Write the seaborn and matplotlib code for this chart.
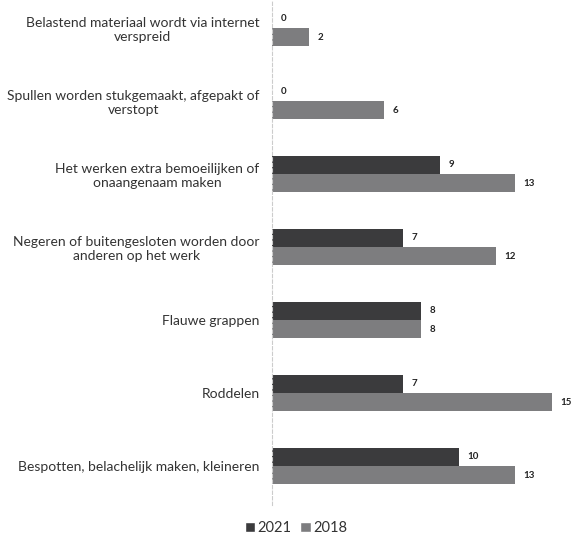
import matplotlib
matplotlib.use("Agg")
import matplotlib.pyplot as plt
import seaborn as sns
import pandas as pd
from matplotlib.patches import Patch

categories = [
    "Belastend materiaal wordt via internet\nverspreid",
    "Spullen worden stukgemaakt, afgepakt of\nverstopt",
    "Het werken extra bemoeilijken of\nonaangenaam maken",
    "Negeren of buitengesloten worden door\nanderen op het werk",
    "Flauwe grappen",
    "Roddelen",
    "Bespotten, belachelijk maken, kleineren",
]
values_2021 = [0, 0, 9, 7, 8, 7, 10]
values_2018 = [2, 6, 13, 12, 8, 15, 13]
years = ["2021", "2018"]
colors = {"2021": "#3b3b3d", "2018": "#7d7d7f"}

df = pd.DataFrame({
    "cat": categories * 2,
    "year": ["2021"] * len(categories) + ["2018"] * len(categories),
    "val": values_2021 + values_2018,
})

sns.set_theme(style="white")
plt.rcParams["font.family"] = ["Lato", "DejaVu Sans"]

fig = plt.figure(figsize=(5.72, 5.37), dpi=100)
ax = fig.add_axes([272 / 572, 1 - 505 / 537, 1 - 272 / 572 - 0.002, 505 / 537])

sns.barplot(data=df, y="cat", x="val", hue="year", order=categories,
            hue_order=years, palette=colors, orient="h", width=0.5,
            ax=ax, legend=False, saturation=1, linewidth=0)

for cont in ax.containers:
    ax.bar_label(cont, padding=6, fontsize=7, fontweight="bold", color="#222222")

ax.set_xlim(0, 16)
ax.set_ylim(6 + 39 / 73, -28 / 73)
ax.set_xlabel("")
ax.set_ylabel("")
ax.set_xticks([])
ax.set_yticks(range(len(categories)))
ax.set_yticklabels(categories, ha="right", multialignment="center",
                   fontsize=10, color="#333333")
ax.tick_params(axis="y", length=0, pad=9)
for s in ["top", "right", "bottom"]:
    ax.spines[s].set_visible(False)
ax.spines["left"].set_color("#cccccc")
ax.spines["left"].set_linestyle((0, (3, 2)))
ax.spines["left"].set_linewidth(0.8)

handles = [Patch(facecolor=colors[y], label=y) for y in years]
fig.legend(handles=handles, loc="center", bbox_to_anchor=(296 / 572, 1 - 528 / 537),
           ncol=2, frameon=False, fontsize=10.5, handlelength=0.7, handleheight=0.7,
           handletextpad=0.2, columnspacing=0.6, labelcolor="#333333")

fig.savefig("out.png", dpi=100, facecolor="white")
